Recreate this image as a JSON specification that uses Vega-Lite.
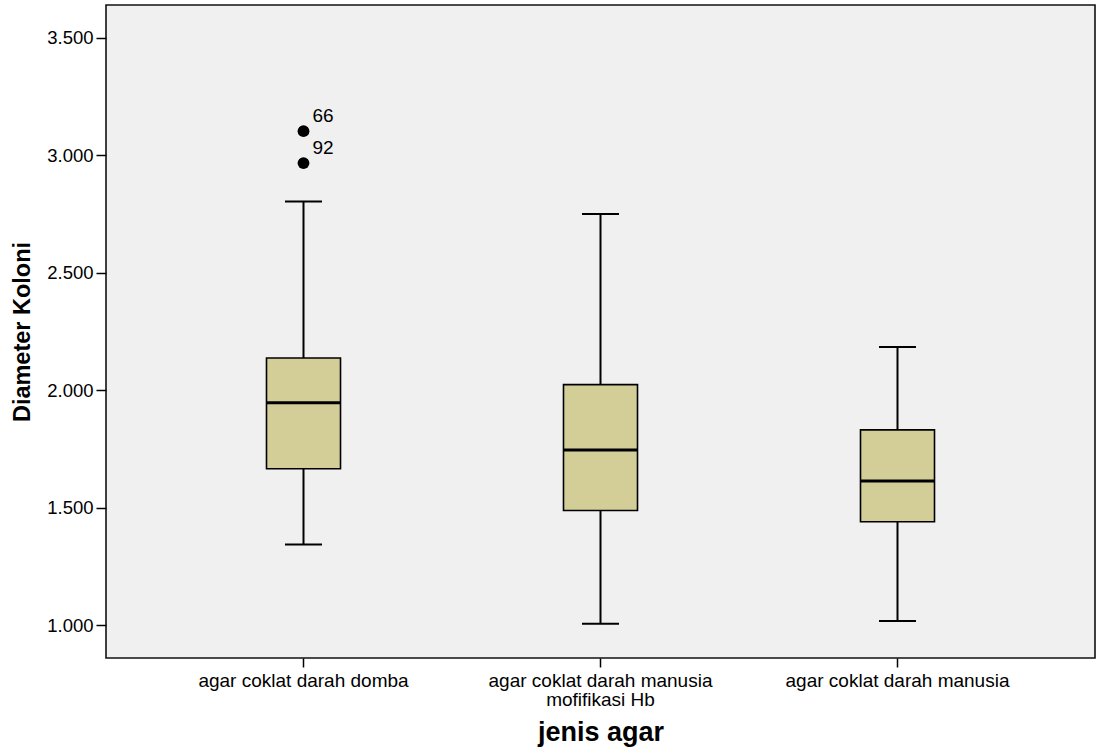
{
  "$schema": "https://vega.github.io/schema/vega-lite/v6.json",
  "width": 989,
  "height": 653,
  "autosize": {"type": "none"},
  "padding": {"left": 106, "top": 5, "right": 4, "bottom": 93},
  "background": "white",
  "config": {
    "view": {"fill": "#f0f0f0", "stroke": "#111111", "strokeWidth": 1.6},
    "font": "Liberation Sans",
    "axis": {"grid": false, "domain": false, "labelColor": "black", "tickColor": "black", "titleColor": "black", "labelFont": "Liberation Sans", "titleFont": "Liberation Sans", "labelLimit": 0}
  },
  "datasets": {
    "boxes": [
      {"jenis": "agar coklat darah domba", "lower": 1.343, "q1": 1.666, "median": 1.947, "q3": 2.137, "upper": 2.803},
      {"jenis": "agar coklat darah manusia mofifikasi Hb", "lower": 1.006, "q1": 1.488, "median": 1.745, "q3": 2.024, "upper": 2.750},
      {"jenis": "agar coklat darah manusia", "lower": 1.018, "q1": 1.440, "median": 1.614, "q3": 1.831, "upper": 2.184}
    ],
    "outliers": [
      {"jenis": "agar coklat darah domba", "value": 3.103, "id": "66"},
      {"jenis": "agar coklat darah domba", "value": 2.967, "id": "92"}
    ]
  },
  "encoding": {
    "x": {
      "field": "jenis",
      "type": "nominal",
      "sort": ["agar coklat darah domba", "agar coklat darah manusia mofifikasi Hb", "agar coklat darah manusia"],
      "scale": {"type": "band", "paddingInner": 0, "paddingOuter": 0.165},
      "axis": {
        "title": "jenis agar",
        "titleFontSize": 27,
        "titleFontWeight": "bold",
        "titlePadding": 10,
        "labelAngle": 0,
        "labelFontSize": 19,
        "labelPadding": 4,
        "labelLineHeight": 19,
        "labelLimit": 0,
        "tickSize": 9,
        "tickWidth": 1.5,
        "labelExpr": "datum.label == 'agar coklat darah manusia mofifikasi Hb' ? ['agar coklat darah manusia', 'mofifikasi Hb'] : datum.label"
      }
    }
  },
  "layer": [
    {
      "data": {"name": "boxes"},
      "mark": {"type": "rule", "color": "black", "strokeWidth": 2},
      "encoding": {
        "y": {
          "field": "lower",
          "type": "quantitative",
          "scale": {"domain": [0.86, 3.64], "nice": false, "zero": false},
          "axis": {
            "title": "Diameter Koloni",
            "titleFontSize": 23.5,
            "titleFontWeight": "bold",
            "titlePadding": 12,
            "values": [1, 1.5, 2, 2.5, 3, 3.5],
            "format": ".3f",
            "labelFontSize": 18.5,
            "labelPadding": 3,
            "tickSize": 10,
            "tickWidth": 1.5
          }
        },
        "y2": {"field": "upper"}
      }
    },
    {
      "data": {"name": "boxes"},
      "mark": {"type": "bar", "size": 74, "fill": "#d3ce98", "stroke": "black", "strokeWidth": 1.6},
      "encoding": {
        "y": {"field": "q1", "type": "quantitative"},
        "y2": {"field": "q3"}
      }
    },
    {
      "data": {"name": "boxes"},
      "mark": {"type": "tick", "size": 74, "thickness": 3, "color": "black", "opacity": 1},
      "encoding": {"y": {"field": "median", "type": "quantitative"}}
    },
    {
      "data": {"name": "boxes"},
      "mark": {"type": "tick", "size": 37, "thickness": 2, "color": "black", "opacity": 1},
      "encoding": {"y": {"field": "upper", "type": "quantitative"}}
    },
    {
      "data": {"name": "boxes"},
      "mark": {"type": "tick", "size": 37, "thickness": 2, "color": "black", "opacity": 1},
      "encoding": {"y": {"field": "lower", "type": "quantitative"}}
    },
    {
      "data": {"name": "outliers"},
      "mark": {"type": "point", "filled": true, "color": "black", "size": 140, "opacity": 1},
      "encoding": {"y": {"field": "value", "type": "quantitative"}}
    },
    {
      "data": {"name": "outliers"},
      "mark": {"type": "text", "align": "left", "baseline": "middle", "dx": 9, "dy": -15, "fontSize": 19, "color": "black"},
      "encoding": {
        "y": {"field": "value", "type": "quantitative"},
        "text": {"field": "id"}
      }
    }
  ]
}
